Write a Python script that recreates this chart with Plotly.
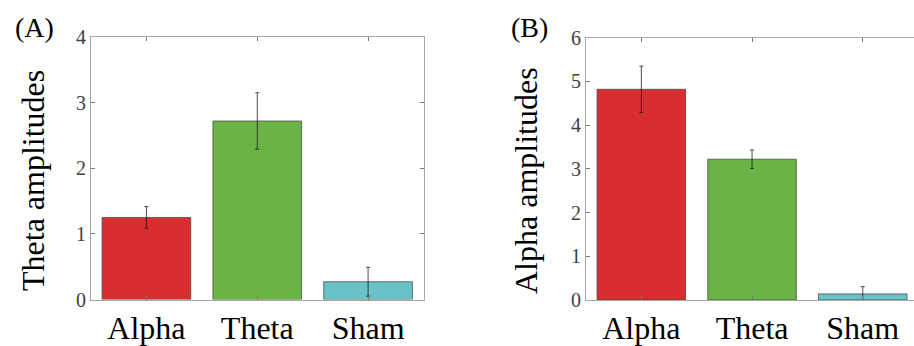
import plotly.graph_objects as go

categories = ["Alpha", "Theta", "Sham"]
bar_colors = ["#D92D2F", "#69B444", "#68C3C6"]

theta_values = [1.25, 2.72, 0.27]
theta_errors = [0.165, 0.43, 0.22]

alpha_values = [4.82, 3.22, 0.14]
alpha_errors = [0.53, 0.21, 0.165]

W, H = 914, 346
FONT = "Liberation Serif, Times New Roman, serif"

fig = go.Figure()

def add_panel(vals, errs, xa, ya):
    fig.add_trace(go.Bar(
        x=[1, 2, 3], y=vals, width=0.8,
        marker=dict(color=bar_colors, line=dict(color="rgba(70,70,70,0.75)", width=1)),
        error_y=dict(type="data", array=errs, color="rgba(30,30,30,0.8)", thickness=1, width=2),
        xaxis=xa, yaxis=ya, showlegend=False,
    ))

add_panel(theta_values, theta_errors, "x", "y")
add_panel(alpha_values, alpha_errors, "x2", "y2")

ax_common = dict(
    showgrid=False, zeroline=False, showline=True, linecolor="#a6a6a6", linewidth=1,
    ticks="inside", ticklen=4, tickcolor="#7a7a7a", tickwidth=1, automargin=False,
)

def px_x(p):
    return p / W

def px_y(p):
    return 1 - p / H

fig.update_layout(
    width=W, height=H, margin=dict(l=0, r=0, t=0, b=0, autoexpand=False),
    paper_bgcolor="white", plot_bgcolor="white",
    bargap=0.2,
    xaxis=dict(domain=[px_x(91), px_x(423.5)], anchor="y", range=[0.5, 3.5],
               tickvals=[1, 2, 3], ticktext=categories, mirror="ticks",
               tickfont=dict(family=FONT, size=32, color="black"), **ax_common),
    yaxis=dict(domain=[px_y(299.5), px_y(37)], anchor="x", range=[0, 4],
               tickvals=[0, 1, 2, 3, 4], mirror="ticks",
               tickfont=dict(family=FONT, size=20, color="#404040"), **ax_common),
    xaxis2=dict(domain=[px_x(586), 1.0], anchor="y2", range=[0.5, 3.463],
                tickvals=[1, 2, 3], ticktext=categories, mirror="ticks",
                tickfont=dict(family=FONT, size=32, color="black"), **ax_common),
    yaxis2=dict(domain=[px_y(300), px_y(37.7)], anchor="x2", range=[0, 6],
                tickvals=[0, 1, 2, 3, 4, 5, 6], mirror=False,
                tickfont=dict(family=FONT, size=20, color="#404040"), **ax_common),
)

annos = [
    dict(text="(A)", x=px_x(34), y=px_y(28), size=28, angle=0),
    dict(text="(B)", x=px_x(529), y=px_y(28), size=28, angle=0),
    dict(text="Theta amplitudes", x=px_x(33), y=px_y(181), size=32, angle=-90),
    dict(text="Alpha amplitudes", x=px_x(526), y=px_y(181), size=32, angle=-90),
]
for a in annos:
    fig.add_annotation(text=a["text"], x=a["x"], y=a["y"], xref="paper", yref="paper",
                       xanchor="center", yanchor="middle", showarrow=False, textangle=a["angle"],
                       font=dict(family=FONT, size=a["size"], color="black"))

fig.write_html("out.html", config={"displayModeBar": False},
               post_script="document.body.style.margin='0';document.body.style.overflow='hidden';")
